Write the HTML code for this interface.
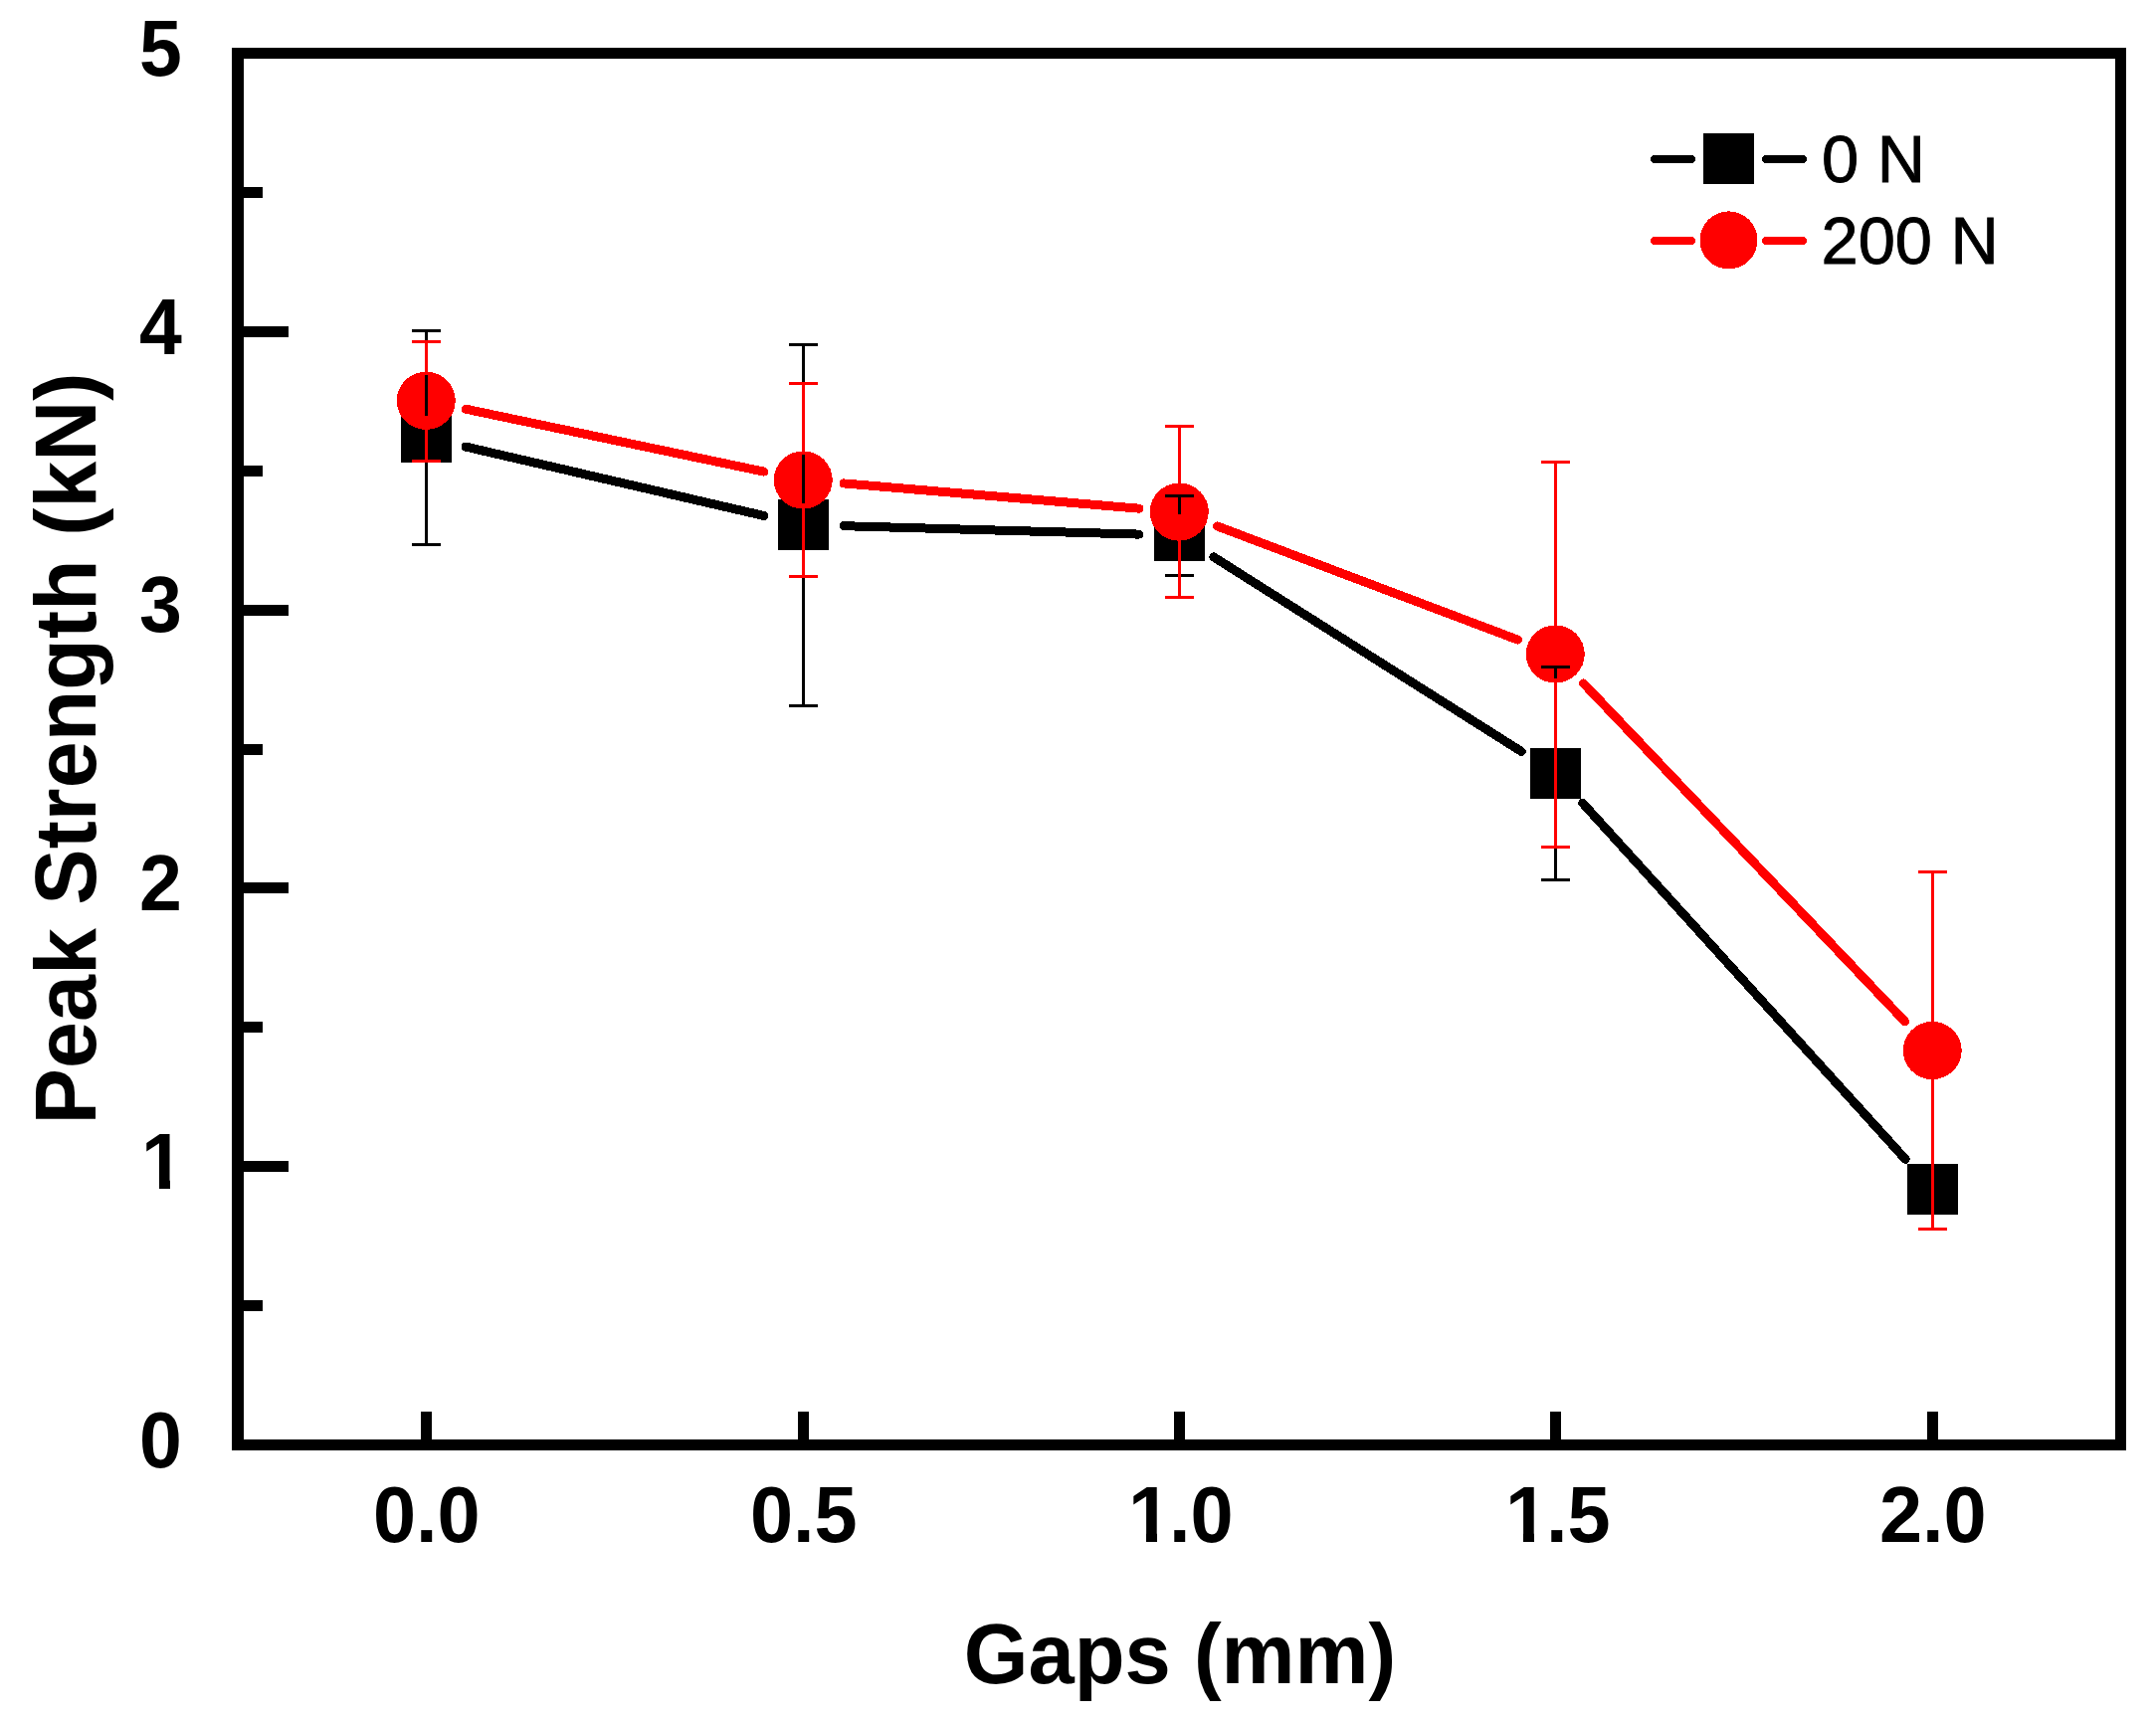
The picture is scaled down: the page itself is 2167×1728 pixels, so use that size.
<!DOCTYPE html>
<html lang="en"><head><meta charset="utf-8"><title>Peak Strength vs Gaps</title>
<style>
html,body{margin:0;padding:0;background:#fff;}
body{width:2167px;height:1728px;overflow:hidden;}
svg{display:block;}
text{font-family:"Liberation Sans",Arial,Helvetica,sans-serif;fill:#000;}
.b{font-weight:bold;}
</style></head>
<body>
<svg width="2167" height="1728" viewBox="0 0 2167 1728">
<rect width="2167" height="1728" fill="#fff"/>
<g fill="#000" shape-rendering="crispEdges">
<rect x="233" y="48" width="12" height="1410"/>
<rect x="2126" y="48" width="11" height="1410"/>
<rect x="233" y="48" width="1904" height="11"/>
<rect x="233" y="1447" width="1904" height="11"/>
<rect x="240" y="1307" width="24" height="11"/>
<rect x="240" y="1167" width="50" height="11"/>
<rect x="240" y="1027" width="24" height="11"/>
<rect x="240" y="887" width="50" height="11"/>
<rect x="240" y="748" width="24" height="11"/>
<rect x="240" y="608" width="50" height="11"/>
<rect x="240" y="468" width="24" height="11"/>
<rect x="240" y="328" width="50" height="11"/>
<rect x="240" y="188" width="24" height="11"/>
<rect x="423" y="1419" width="11" height="32"/>
<rect x="802" y="1419" width="11" height="32"/>
<rect x="1180" y="1419" width="11" height="32"/>
<rect x="1558" y="1419" width="11" height="32"/>
<rect x="1937" y="1419" width="11" height="32"/>
</g>
<g stroke="#000" stroke-width="9" stroke-linecap="round" fill="none" shape-rendering="crispEdges">
<line x1="468.1" y1="449.1" x2="767.9" y2="518.5"/>
<line x1="848.1" y1="528.7" x2="1144.9" y2="537.1"/>
<line x1="1219.8" y1="559.9" x2="1529.2" y2="755.5"/>
<line x1="1590.8" y1="807.3" x2="1915.2" y2="1165.3"/>
</g>
<g fill="#000" shape-rendering="crispEdges">
<rect x="403" y="414" width="51" height="51"/>
<rect x="782" y="502" width="51" height="51"/>
<rect x="1160" y="513" width="51" height="51"/>
<rect x="1538" y="752" width="51" height="51"/>
<rect x="1917" y="1170" width="51" height="51"/>
</g>
<g stroke="#f00" stroke-width="9" stroke-linecap="round" fill="none" shape-rendering="crispEdges">
<line x1="468.2" y1="411.2" x2="767.8" y2="474.1"/>
<line x1="848.0" y1="485.9" x2="1145.0" y2="511.2"/>
<line x1="1223.5" y1="529.0" x2="1525.5" y2="643.1"/>
<line x1="1591.5" y1="686.9" x2="1914.5" y2="1026.6"/>
</g>
<g fill="#f00" shape-rendering="crispEdges">
<ellipse cx="428.25" cy="402.8" rx="29.5" ry="29.1"/>
<ellipse cx="807.25" cy="482.5" rx="29.5" ry="29.1"/>
<ellipse cx="1185.25" cy="514.6" rx="29.5" ry="29.1"/>
<ellipse cx="1563.25" cy="657.5" rx="29.5" ry="29.1"/>
<ellipse cx="1942.25" cy="1056.0" rx="29.5" ry="29.1"/>
</g>
<g fill="#000" shape-rendering="crispEdges">
<rect x="414" y="331" width="29" height="3"/>
<rect x="414" y="546" width="29" height="3"/>
<rect x="427" y="332" width="3" height="86"/>
<rect x="427" y="462" width="3" height="86"/>
<rect x="793" y="345" width="29" height="3"/>
<rect x="793" y="708" width="29" height="3"/>
<rect x="806" y="346" width="3" height="160"/>
<rect x="806" y="549" width="3" height="160"/>
<rect x="1171" y="497" width="29" height="3"/>
<rect x="1171" y="577" width="29" height="3"/>
<rect x="1184" y="499" width="3" height="18"/>
<rect x="1184" y="560" width="3" height="19"/>
<rect x="1549" y="669" width="29" height="3"/>
<rect x="1549" y="883" width="29" height="3"/>
<rect x="1562" y="670" width="3" height="86"/>
<rect x="1562" y="799" width="3" height="86"/>
</g>
<g fill="#f00" shape-rendering="crispEdges">
<rect x="414" y="342" width="29" height="3"/>
<rect x="414" y="462" width="29" height="3"/>
<rect x="427" y="343" width="3" height="34"/>
<rect x="427" y="428" width="3" height="36"/>
<rect x="793" y="384" width="29" height="3"/>
<rect x="793" y="578" width="29" height="3"/>
<rect x="806" y="385" width="3" height="72"/>
<rect x="806" y="508" width="3" height="72"/>
<rect x="1171" y="427" width="29" height="3"/>
<rect x="1171" y="599" width="29" height="3"/>
<rect x="1184" y="428" width="3" height="61"/>
<rect x="1184" y="540" width="3" height="61"/>
<rect x="1549" y="463" width="29" height="3"/>
<rect x="1549" y="850" width="29" height="3"/>
<rect x="1562" y="465" width="3" height="168"/>
<rect x="1562" y="682" width="3" height="169"/>
<rect x="1928" y="875" width="29" height="3"/>
<rect x="1928" y="1234" width="29" height="3"/>
<rect x="1941" y="876" width="3" height="155"/>
<rect x="1941" y="1081" width="3" height="154"/>
</g>
<text class="b" font-size="77.0" text-anchor="end" transform="translate(182.7 1474.8) scale(1 1.040)">0</text>
<text class="b" font-size="77.0" text-anchor="end" transform="translate(184.7 1195.0) scale(1 1.040)">1</text>
<text class="b" font-size="77.0" text-anchor="end" transform="translate(182.7 915.2) scale(1 1.040)">2</text>
<text class="b" font-size="77.0" text-anchor="end" transform="translate(182.7 635.4) scale(1 1.040)">3</text>
<text class="b" font-size="77.0" text-anchor="end" transform="translate(182.7 355.6) scale(1 1.040)">4</text>
<text class="b" font-size="77.0" text-anchor="end" transform="translate(182.7 75.8) scale(1 1.040)">5</text>
<text class="b" font-size="77.5" text-anchor="middle" transform="translate(428.8 1550.0) scale(1 1.040)">0.0</text>
<text class="b" font-size="77.5" text-anchor="middle" transform="translate(807.8 1550.0) scale(1 1.040)">0.5</text>
<text class="b" font-size="77.5" text-anchor="middle" transform="translate(1184.8 1550.0) scale(1 1.040)" dx="2 -2 0">1.0</text>
<text class="b" font-size="77.5" text-anchor="middle" transform="translate(1563.8 1550.0) scale(1 1.040)" dx="2 -2 0">1.5</text>
<text class="b" font-size="77.5" text-anchor="middle" transform="translate(1942.8 1550.0) scale(1 1.040)">2.0</text>
<g fill="#fff">
<rect x="144" y="1185.5" width="16" height="12"/><rect x="171" y="1185.5" width="16" height="12"/>
<rect x="1136" y="1540.5" width="16" height="12"/><rect x="1163" y="1540.5" width="16" height="12"/>
<rect x="1515" y="1540.5" width="16" height="12"/><rect x="1542" y="1540.5" width="16" height="12"/>
</g>
<text class="b" font-size="83.2" text-anchor="middle" transform="translate(1186.0 1692.0) scale(1 1.035)">Gaps (mm)</text>
<text class="b" font-size="84.5" text-anchor="middle" transform="translate(96.3 752.5) rotate(-90) scale(1 1.035)">Peak Strength (kN)</text>
<g stroke-width="8" stroke-linecap="round" fill="none" shape-rendering="crispEdges">
<line x1="1663" y1="160" x2="1700" y2="160" stroke="#000"/><line x1="1775" y1="160" x2="1812" y2="160" stroke="#000"/>
<line x1="1663" y1="242" x2="1700" y2="242" stroke="#f00"/><line x1="1775" y1="242" x2="1812" y2="242" stroke="#f00"/>
</g>
<rect x="1712" y="134" width="51" height="51" fill="#000" shape-rendering="crispEdges"/>
<ellipse cx="1737.5" cy="241.4" rx="29" ry="29" fill="#f00" shape-rendering="crispEdges"/>
<text font-size="66.8" text-anchor="start" transform="translate(1831.0 183.0) scale(1 1.000)" stroke="#000" stroke-width="0.9">0 N</text>
<text font-size="66.8" text-anchor="start" transform="translate(1830.5 265.0) scale(1 1.000)" stroke="#000" stroke-width="0.9">200 N</text>
</svg>
</body></html>
